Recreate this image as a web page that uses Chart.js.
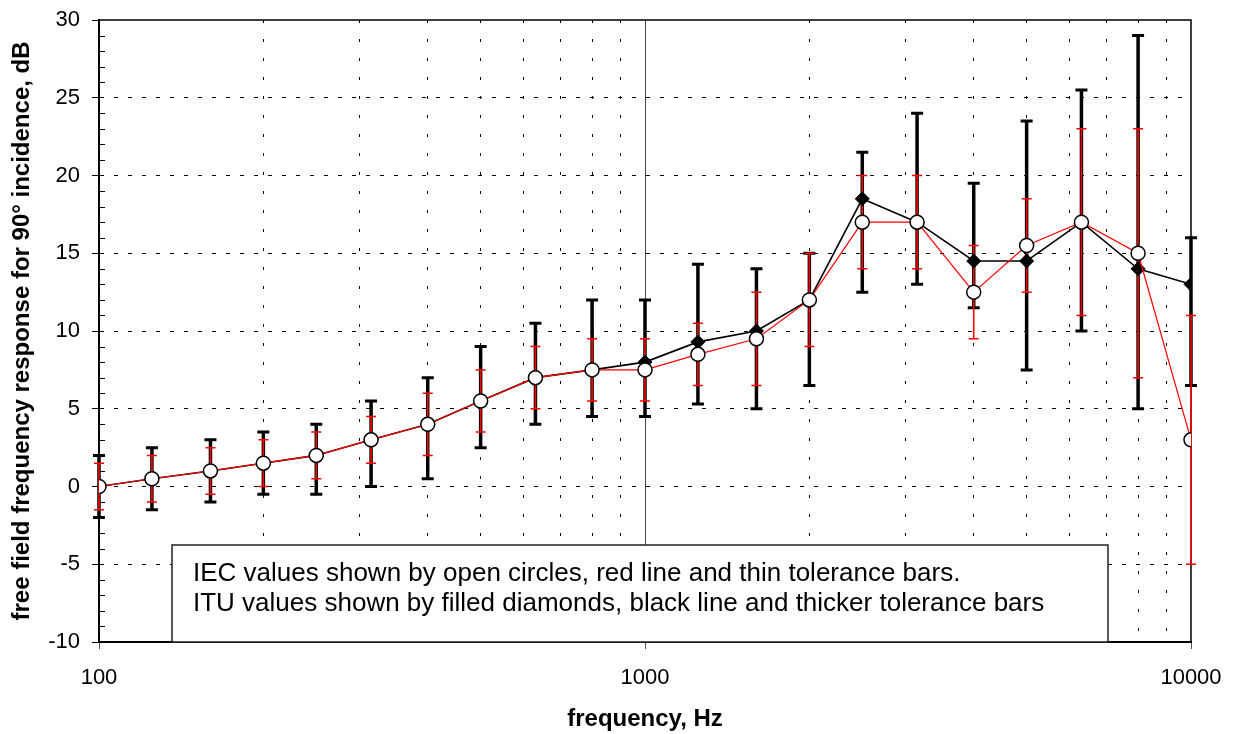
<!DOCTYPE html>
<html>
<head>
<meta charset="utf-8">
<script src="https://cdn.jsdelivr.net/npm/chart.js@4.4.0/dist/chart.umd.min.js"></script>
<style>
  html, body { margin: 0; padding: 0; background: #fff; }
  #wrap { width: 1237px; height: 734px; }
</style>
</head>
<body>
<div id="wrap"><canvas id="chart"></canvas></div>
<script>
// third-octave band centre frequencies, Hz
const frequencies = [100, 125, 160, 200, 250, 315, 400, 500, 630, 800, 1000,
  1250, 1600, 2000, 2500, 3150, 4000, 5000, 6300, 8000, 10000];

// IEC: open circles, red line, thin tolerance bars
const iecValues = [0, 0.5, 1, 1.5, 2, 3, 4, 5.5, 7, 7.5, 7.5, 8.5, 9.5, 12, 17, 17, 12.5, 15.5, 17, 15, 3];
const iecUpper = [1.5, 2, 2.5, 3, 3.5, 4.5, 6, 7.5, 9, 9.5, 9.5, 10.5, 12.5, 15, 20, 20, 15.5, 18.5, 23, 23, 11];
const iecLower = [-1.5, -1, -0.5, 0, 0.5, 1.5, 2, 3.5, 5, 5.5, 5.5, 6.5, 6.5, 9, 14, 14, 9.5, 12.5, 11, 7, -5];

// ITU: filled diamonds, black line, thick tolerance bars
const ituValues = [0, 0.5, 1, 1.5, 2, 3, 4, 5.5, 7, 7.5, 8, 9.3, 10, 12, 18.5, 17, 14.5, 14.5, 17, 14, 13];
const ituUpper = [2, 2.5, 3, 3.5, 4, 5.5, 7, 9, 10.5, 12, 12, 14.3, 14, 15, 21.5, 24, 19.5, 23.5, 25.5, 29, 16];
const ituLower = [-2, -1.5, -1, -0.5, -0.5, 0, 0.5, 2.5, 4, 4.5, 4.5, 5.3, 5, 6.5, 12.5, 13, 11.5, 7.5, 10, 5, 6.5];

// axis ticks
const xGridValues = [100, 200, 300, 400, 500, 600, 700, 800, 900, 1000,
  2000, 3000, 4000, 5000, 6000, 7000, 8000, 9000, 10000];
const xTickLabels = [100, 1000, 10000];
const yMin = -10;
const yMax = 30;

const noteLines = [
  "IEC values shown by open circles, red line and thin tolerance bars.",
  "ITU values shown by filled diamonds, black line and thicker tolerance bars",
];

const FONT = "'Liberation Sans', Arial, sans-serif";

function drawErrorBars(ctx, xs, ys, upper, lower, color, barWidth, capHalf, capWidth) {
  ctx.save();
  ctx.strokeStyle = color;
  frequencies.forEach((f, i) => {
    const px = xs.getPixelForValue(f);
    const top = ys.getPixelForValue(upper[i]);
    const bot = ys.getPixelForValue(lower[i]);
    ctx.lineWidth = barWidth;
    ctx.beginPath();
    ctx.moveTo(px, top);
    ctx.lineTo(px, bot);
    ctx.stroke();
    ctx.lineWidth = capWidth;
    ctx.beginPath();
    ctx.moveTo(px - capHalf, top);
    ctx.lineTo(px + capHalf, top);
    ctx.moveTo(px - capHalf, bot);
    ctx.lineTo(px + capHalf, bot);
    ctx.stroke();
  });
  ctx.restore();
}

const decorPlugin = {
  id: "decor",
  beforeDatasetsDraw(chart) {
    const { ctx, chartArea: area, scales: { x, y } } = chart;
    ctx.save();

    // solid line at 1 kHz
    const x1k = Math.round(x.getPixelForValue(1000)) + 0.5;
    ctx.strokeStyle = "#444";
    ctx.lineWidth = 1;
    ctx.beginPath();
    ctx.moveTo(x1k, area.top);
    ctx.lineTo(x1k, area.bottom);
    ctx.stroke();

    // minor ticks on the y axis, inside the plot
    ctx.strokeStyle = "#000";
    ctx.beginPath();
    for (let v = yMin + 1; v < yMax; v++) {
      if (v % 5 === 0) continue;
      const py = Math.round(y.getPixelForValue(v)) + 0.5;
      ctx.moveTo(area.left, py);
      ctx.lineTo(area.left + 6, py);
    }
    ctx.stroke();

    // frame: top and right edges
    ctx.lineWidth = 1.5;
    ctx.beginPath();
    ctx.moveTo(area.left, area.top);
    ctx.lineTo(area.right, area.top);
    ctx.lineTo(area.right, area.bottom);
    ctx.stroke();

    // note box
    const bx = area.left + 73;
    const by = area.top + 525;
    const bw = 936;
    const bh = area.bottom - by;
    ctx.fillStyle = "#fff";
    ctx.fillRect(bx, by, bw, bh);
    ctx.strokeStyle = "#222";
    ctx.lineWidth = 1.5;
    ctx.strokeRect(bx, by, bw, bh);
    ctx.fillStyle = "#000";
    ctx.font = "26px " + FONT;
    ctx.textBaseline = "alphabetic";
    ctx.fillText(noteLines[0], bx + 21, by + 36);
    ctx.fillText(noteLines[1], bx + 21, by + 66);
    ctx.restore();

    drawErrorBars(ctx, x, y, ituUpper, ituLower, "#000", 3.5, 6, 3);
    drawErrorBars(ctx, x, y, iecUpper, iecLower, "#ff0000", 1.6, 5, 1.5);
  },
};

const ctx = document.getElementById("chart");
const chart = new Chart(ctx, {
  type: "line",
  data: {
    datasets: [
      {
        label: "IEC",
        data: frequencies.map((f, i) => ({ x: f, y: iecValues[i] })),
        borderColor: "#ff0000",
        borderWidth: 1.2,
        pointStyle: "circle",
        pointRadius: 7,
        pointBackgroundColor: "#fff",
        pointBorderColor: "#000",
        pointBorderWidth: 1.5,
        tension: 0,
      },
      {
        label: "ITU",
        data: frequencies.map((f, i) => ({ x: f, y: ituValues[i] })),
        borderColor: "#000",
        borderWidth: 1.6,
        pointStyle: "rectRot",
        pointRadius: 7,
        pointBackgroundColor: "#000",
        pointBorderColor: "#000",
        pointBorderWidth: 1,
        tension: 0,
      },
    ],
  },
  options: {
    responsive: true,
    maintainAspectRatio: false,
    animation: false,
    layout: { padding: { top: 20, right: 46, left: 0, bottom: 0 } },
    plugins: {
      legend: { display: false },
      tooltip: { enabled: false },
    },
    scales: {
      x: {
        type: "logarithmic",
        min: 100,
        max: 10000,
        afterBuildTicks: (scale) => {
          scale.ticks = xGridValues.map((v) => ({ value: v }));
        },
        afterFit: (scale) => {
          scale.height = 92;
          scale.paddingLeft = 0;
          scale.paddingRight = 0;
        },
        ticks: {
          autoSkip: false,
          maxRotation: 0,
          color: "#000",
          padding: 16,
          font: { family: FONT, size: 22 },
          callback: (v) => (xTickLabels.includes(v) ? String(v) : ""),
        },
        grid: {
          color: (c) => (c.tick && (c.tick.value === 100 || c.tick.value === 10000) ? "rgba(0,0,0,0)" : "#000"),
          lineWidth: 1,
          tickLength: 7,
          tickColor: (c) => (c.tick && xTickLabels.includes(c.tick.value) ? "#555" : "rgba(0,0,0,0)"),
        },
        border: { display: true, color: "#000", width: 2, dash: [3, 16] },
        title: {
          display: true,
          text: "frequency, Hz",
          color: "#000",
          font: { family: FONT, size: 24, weight: "bold" },
          padding: { top: 0, bottom: 0 },
        },
      },
      y: {
        min: yMin,
        max: yMax,
        afterFit: (scale) => {
          scale.width = 99;
          scale.paddingTop = 0;
          scale.paddingBottom = 0;
        },
        ticks: {
          stepSize: 5,
          autoSkip: false,
          color: "#000",
          padding: 12,
          font: { family: FONT, size: 22 },
        },
        grid: {
          color: (c) => (c.tick && (c.tick.value === yMin || c.tick.value === yMax) ? "rgba(0,0,0,0)" : "#000"),
          lineWidth: 1,
          tickLength: 7,
          tickColor: "#000",
        },
        border: { display: true, color: "#000", width: 2, dash: [4, 10] },
        title: {
          display: true,
          text: "free field frequency response for 90° incidence, dB",
          color: "#000",
          font: { family: FONT, size: 24, weight: "bold" },
          padding: { top: 8, bottom: 0 },
        },
      },
    },
  },
  plugins: [decorPlugin],
});
</script>
</body>
</html>
